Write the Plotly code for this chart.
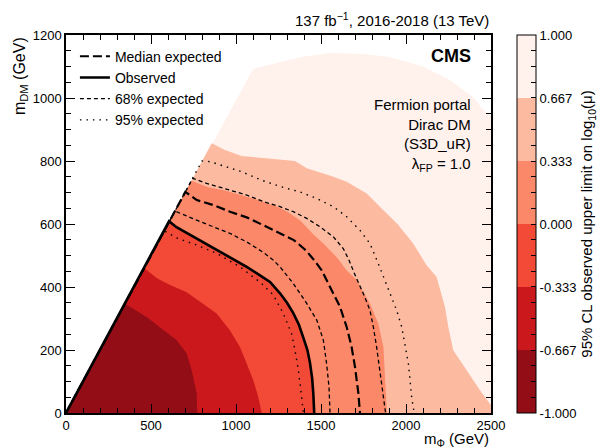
import plotly.graph_objects as go

# band edges of log10(mu), colour per band (dark -> pale)
LEVELS = [-1.0, -0.667, -0.333, 0.0, 0.333, 0.667, 1.0]
BAND_COLORS = ['#920d16', '#cb181d', '#f24a36', '#fb8868', '#fcbba1', '#fff1ec']

# outer edge of the scanned region (diagonal m_DM = m_phi, then top edge)
EDGE_X = [0, 1100, 1241, 1400, 1553, 1750, 1906, 2100, 2259, 2400, 2453, 2500, 2500]
EDGE_Y = [0, 1092, 1111, 1132, 1143, 1140, 1130, 1100, 1057, 1000, 962, 945, 0]

# contour at log10(mu) = 0.667
C067P_X = [0, 857, 935, 1033, 1190, 1347, 1416, 1573, 1651, 1769, 1867, 1950, 2040, 2120, 2180, 2229, 2249, 2278, 2357, 2435, 2500, 2500]
C067P_Y = [0, 856, 835, 816, 808, 800, 777, 750, 734, 697, 644, 600, 540, 470, 432, 337, 273, 199, 136, 72, 25, 0]

# contour at log10(mu) = 0.333
C033P_X = [0, 737, 837, 935, 1033, 1131, 1229, 1300, 1380, 1450, 1514, 1600, 1650, 1710, 1788, 1837, 1867, 1876, 1886, 1888]
C033P_Y = [0, 737, 717, 706, 691, 676, 658, 640, 610, 570, 538, 490, 453, 422, 348, 284, 210, 136, 19, 0]

# contour at log10(mu) = -0.333
C033M_X = [0, 460, 535, 612, 710, 800, 886, 965, 1024, 1102, 1131, 1151]
C033M_Y = [0, 460, 428, 406, 383, 350, 316, 262, 209, 104, 51, 0]

# contour at log10(mu) = -0.667
C067M_X = [0, 347, 474, 553, 651, 710, 739, 769, 772]
C067M_Y = [0, 347, 305, 273, 231, 189, 136, 62, 0]

# observed limit (log10(mu) = 0)
OBS_X = [0, 606, 650, 729, 800, 886, 980, 1063, 1141, 1200, 1259, 1300, 1337, 1370, 1395, 1420, 1435, 1448, 1455, 1460]
OBS_Y = [0, 609, 590, 566, 545, 517, 490, 464, 437, 416, 380, 350, 317, 280, 241, 200, 160, 110, 60, 0]

# median expected
MED_X = [0, 702, 769, 867, 965, 1063, 1161, 1239, 1340, 1410, 1460, 1504, 1553, 1612, 1651, 1680, 1700, 1720, 1729]
MED_Y = [0, 702, 676, 660, 639, 621, 596, 575, 549, 517, 485, 453, 400, 337, 273, 210, 146, 62, 0]

# 68% expected band edges
E68_LO_X = [0, 641, 769, 867, 965, 1063, 1161, 1220, 1259, 1337, 1416, 1475, 1514, 1533, 1547, 1553]
E68_LO_Y = [0, 641, 612, 591, 570, 543, 510, 485, 464, 411, 348, 295, 231, 157, 83, 0]
E68_HI_X = [0, 745, 827, 965, 1063, 1161, 1259, 1337, 1416, 1494, 1573, 1631, 1665, 1705, 1749, 1788, 1808, 1827, 1847, 1867, 1880]
E68_HI_Y = [0, 745, 729, 706, 692, 671, 655, 639, 618, 591, 559, 522, 485, 432, 379, 326, 273, 210, 136, 62, 0]

# 95% expected band edges
E95_LO_X = [0, 578, 650, 769, 886, 1024, 1151, 1220, 1278, 1327, 1347, 1367, 1386, 1396]
E95_LO_Y = [0, 578, 556, 533, 507, 464, 411, 374, 316, 252, 199, 136, 51, 0]
E95_HI_X = [0, 800, 847, 935, 1033, 1151, 1278, 1376, 1475, 1573, 1651, 1729, 1788, 1840, 1867, 1906, 1945, 1975, 1994, 2014, 2024, 2033, 2048]
E95_HI_Y = [0, 800, 798, 782, 766, 739, 716, 702, 681, 655, 623, 580, 538, 470, 432, 379, 326, 273, 221, 157, 104, 51, 0]

FONT = 'Liberation Sans'

fig = go.Figure()

# filled bands: each polygon covers everything below its contour, pale first
fills = [
    (EDGE_X, EDGE_Y, BAND_COLORS[5]),
    (C067P_X, C067P_Y, BAND_COLORS[4]),
    (C033P_X, C033P_Y, BAND_COLORS[3]),
    (OBS_X, OBS_Y, BAND_COLORS[2]),
    (C033M_X, C033M_Y, BAND_COLORS[1]),
    (C067M_X, C067M_Y, BAND_COLORS[0]),
]
for xs, ys, col in fills:
    fig.add_trace(go.Scatter(x=xs, y=ys, mode='lines', fill='toself', fillcolor=col,
                             line=dict(width=0, color=col), showlegend=False, hoverinfo='skip'))

# limit contours
lines = [
    (MED_X, MED_Y, 'Median expected', dict(color='black', width=2.2, dash='9px,4px'), True),
    (OBS_X, OBS_Y, 'Observed', dict(color='black', width=2.6), True),
    (E68_LO_X, E68_LO_Y, '68% expected', dict(color='black', width=1.3, dash='4px,3px'), True),
    (E68_HI_X, E68_HI_Y, '68% expected', dict(color='black', width=1.3, dash='4px,3px'), False),
    (E95_LO_X, E95_LO_Y, '95% expected', dict(color='black', width=1.4, dash='1.5px,5px'), True),
    (E95_HI_X, E95_HI_Y, '95% expected', dict(color='black', width=1.4, dash='1.5px,5px'), False),
]
for xs, ys, name, ln, leg in lines:
    fig.add_trace(go.Scatter(x=xs, y=ys, mode='lines', name=name, line=ln,
                             showlegend=leg, hoverinfo='skip'))

# discrete colour scale for the colour bar
n = len(BAND_COLORS)
cscale = []
for i, c in enumerate(BAND_COLORS):
    cscale.append([i / n, c])
    cscale.append([(i + 1) / n, c])

# labelled ticks at the band edges, plus 3 unlabelled ticks inside each band
cb_vals, cb_text = [], []
for i in range(len(LEVELS)):
    cb_vals.append(LEVELS[i])
    cb_text.append(f'{LEVELS[i]:.3f}')
    if i + 1 < len(LEVELS):
        for k in (1, 2, 3):
            cb_vals.append(LEVELS[i] + (LEVELS[i + 1] - LEVELS[i]) * k / 4)
            cb_text.append('')

cb_x = (517 - 66) / 425
cb_w = 19
fig.add_trace(go.Scatter(
    x=[None], y=[None], mode='markers', showlegend=False, hoverinfo='skip',
    marker=dict(color=[0], cmin=-1, cmax=1, colorscale=cscale, showscale=True,
                colorbar=dict(x=cb_x, xanchor='left', xpad=0, y=0.5, yanchor='middle', ypad=0,
                              len=1, thickness=cb_w, outlinecolor='black', outlinewidth=1,
                              tickvals=cb_vals, ticktext=cb_text,
                              ticks='inside', ticklen=5, tickcolor='black',
                              tickfont=dict(family=FONT, size=13, color='black'),
                              title=dict(text='95% CL observed upper limit on log<sub>10</sub>(μ)',
                                         side='right', font=dict(family=FONT, size=15, color='black'))))))

axis_common = dict(showline=True, linecolor='black', linewidth=1.5, mirror='ticks',
                   ticks='inside', ticklen=9, tickcolor='black', showgrid=False, zeroline=False,
                   tickfont=dict(family=FONT, size=13, color='black'))
fig.update_xaxes(range=[0, 2500], dtick=500,
                 minor=dict(dtick=100, ticks='inside', ticklen=5, tickcolor='black', showgrid=False),
                 **axis_common)
fig.update_yaxes(range=[0, 1200], dtick=200,
                 minor=dict(dtick=50, ticks='inside', ticklen=5, tickcolor='black', showgrid=False),
                 **axis_common)

fig.add_shape(type='line', xref='paper', yref='paper', x0=cb_x, x1=cb_x + cb_w / 425,
              y0=0.5, y1=0.5, line=dict(color='black', width=2.5))

txt = dict(family=FONT, color='black')
fig.add_annotation(text='m<sub>Φ</sub> (GeV)', xref='paper', yref='paper', x=1, y=-0.04,
                   xanchor='right', yanchor='top', showarrow=False, font=dict(size=15, **txt))
fig.add_annotation(text='m<sub>DM</sub> (GeV)', xref='paper', yref='paper', x=-0.108, y=1.0,
                   xanchor='center', yanchor='top', textangle=-90, showarrow=False,
                   font=dict(size=16, **txt))
fig.add_annotation(text='137 fb<sup>−1</sup>, 2016-2018 (13 TeV)', xref='paper', yref='paper',
                   x=1, y=1.01, xanchor='right', yanchor='bottom', showarrow=False,
                   font=dict(size=15, **txt))
fig.add_annotation(text='<b>CMS</b>', xref='paper', yref='paper', x=0.958, y=0.975,
                   xanchor='right', yanchor='top', showarrow=False, font=dict(size=18, **txt))
fig.add_annotation(text='Fermion portal<br>Dirac DM<br>(S3D_uR)<br>λ<sub>FP</sub> = 1.0',
                   xref='paper', yref='paper', x=0.958, y=0.845, xanchor='right', yanchor='top',
                   align='right', showarrow=False, font=dict(size=15, **txt))

fig.update_layout(
    width=601, height=448,
    margin=dict(l=66, r=110, t=35, b=35, autoexpand=False),
    paper_bgcolor='white', plot_bgcolor='white',
    legend=dict(x=0.021, y=0.985, xanchor='left', yanchor='top', bgcolor='rgba(0,0,0,0)',
                font=dict(family=FONT, size=14, color='black'), tracegroupgap=0),
    font=dict(family=FONT, color='black'),
)

# page body has an 8px default margin; drop it so the figure sits at the window corner
fig.write_html("out.html", config={'displayModeBar': False},
               post_script="document.body.style.margin='0';")
